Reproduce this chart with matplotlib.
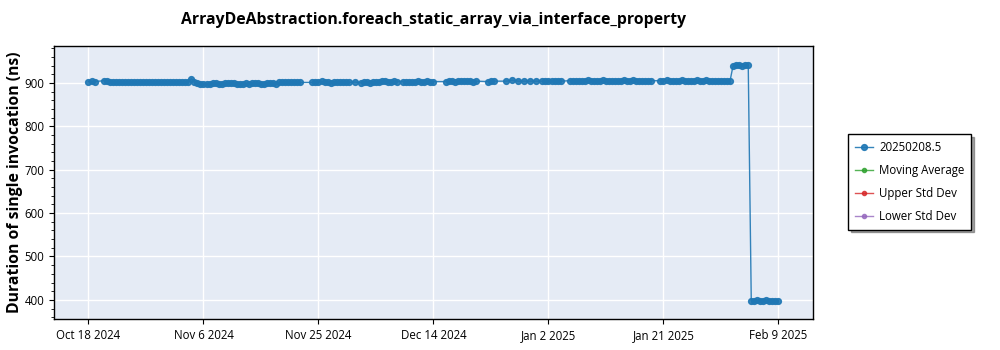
import datetime as dt
import numpy as np
import matplotlib
matplotlib.use("Agg")
import matplotlib.pyplot as plt
import matplotlib.dates as mdates
from matplotlib.ticker import AutoMinorLocator, FixedLocator

plt.rcParams['font.family'] = ['Open Sans', 'DejaVu Sans']

title = "ArrayDeAbstraction.foreach_static_array_via_interface_property"
series_label = "20250208.5"
start_day = dt.datetime(2024, 10, 18)
nan = np.nan

# two runs per day (00:00 and 12:00) from Oct 18 2024, nan = run missing
durations = [
    903, 904, 903, nan, nan, 905, 904, 903, 902, 902, 901, 902, 901, 902,  # Oct 18-24
    902, 901, 902, 902, 902, 903, 903, 902, 902, 902, 903, 902, 903, 902,  # Oct 25-31
    902, 903, 902, 901, 901, 903, 910, 902, 899, 898, 898, 897, 898, 899,  # Nov 1-7
    899, 898, 898, 899, 900, 899, 899, 897, 897, 898, 899, 898, 900, 899,  # Nov 8-14
    899, 898, 898, 899, 899, 900, 898, 901, 901, 902, 902, 901, 902, 902,  # Nov 15-21
    901, nan, nan, nan, 901, 903, 903, 904, 902, 901, 900, 901, 901, 902,  # Nov 22-28
    902, 901, 901, nan,                                                    # Nov 29-30
    902, nan, 900, 901, 901, 900, 903, 902, 903, 904, 904, 903, 903, 904,  # Dec 1-7
    903, nan, 903, 902, 902, 903, 903, 904, 903, 903, 904, 903, 903, nan,  # Dec 8-14
    nan, nan, 903, 904, 904, 903, 904, 905, 905, 904, 904, 903, 904, nan,  # Dec 15-21
    nan, nan, 903, 904, 904, nan, nan, nan, 904, nan, 906, nan, 904, nan,  # Dec 22-28
    904, nan, 904, nan, 904, nan,                                          # Dec 29-31
    904, 905, 904, 904, 904, 905, 904, nan, nan, 905, 905, 904, 905, 905,  # Jan 1-7
    905, 906, 905, 904, 905, 905, 906, 905, 905, 904, 905, 905, 905, 906,  # Jan 8-14
    905, 905, 906, 905, 905, 904, 905, 905, 905, nan, nan, 905, 905, 906,  # Jan 15-21
    905, 905, 905, 904, 906, 905, 905, 905, 905, 906, 905, 905, 906, 905,  # Jan 22-28
    905, 905, 905, 904, 905, 905,                                          # Jan 29-31
    905, 940, 941, 941, 940, 941, 941, 398, 398, 399, 398, 398, 399, 398,  # Feb 1-7
    398, 398, 398, nan,                                                    # Feb 8-9
]

other_series = [("Moving Average", "#2ca02c"),
                ("Upper Std Dev", "#d62728"),
                ("Lower Std Dev", "#9467bd")]

tick_dates = [dt.date(2024, 10, 18), dt.date(2024, 11, 6), dt.date(2024, 11, 25),
              dt.date(2024, 12, 14), dt.date(2025, 1, 2), dt.date(2025, 1, 21),
              dt.date(2025, 2, 9)]

stamps = [start_day + dt.timedelta(hours=12 * i) for i in range(len(durations))]
dates = [d for d, v in zip(stamps, durations) if not np.isnan(v)]
values = [v for v in durations if not np.isnan(v)]

fig = plt.figure(figsize=(10, 3.5), dpi=100)
ax = fig.add_axes([0.054, 0.0886, 0.759, 0.78])
ax.set_facecolor("#e5ebf5")

ax.plot(dates, values, color="#1f77b4", lw=1, alpha=0.9, marker="o", ms=4.2,
        label=series_label, zorder=3)
for name, col in other_series:
    ax.plot([], [], color=col, lw=1, marker="o", ms=3, alpha=0.8, label=name)

ax.set_ylim(356, 985)
ax.set_yticks([400, 500, 600, 700, 800, 900])
ax.yaxis.set_minor_locator(AutoMinorLocator(5))
ax.xaxis.set_major_locator(FixedLocator(mdates.date2num(tick_dates)))
ax.xaxis.set_major_formatter(mdates.DateFormatter("%b %-d %Y"))

ax.grid(True, color="white", lw=1)
ax.set_axisbelow(True)
for s in ax.spines.values():
    s.set_color("black")
    s.set_linewidth(1)
ax.tick_params(labelsize=8.3, colors="black")
ax.tick_params(which="minor", length=2)

ax.set_title(title, fontsize=11.3, fontweight="bold", pad=16)
ax.set_ylabel("Duration of single invocation (ns)", fontsize=11.3,
              fontweight="bold", labelpad=1)

leg = fig.legend(loc="center left", bbox_to_anchor=(0.848, 0.48), fontsize=8.3,
                 frameon=True, fancybox=False, shadow=True, edgecolor="black",
                 handlelength=1.6, handletextpad=0.5, borderpad=0.6,
                 labelspacing=0.85, borderaxespad=0)
leg.get_frame().set_linewidth(1)

fig.savefig("out.png", dpi=100)
